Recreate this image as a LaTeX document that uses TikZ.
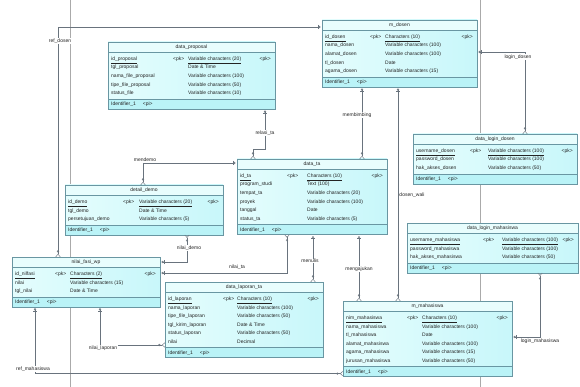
\documentclass[tikz,border=0pt]{standalone}
\usepackage{fontspec}
\setmainfont{Liberation Sans}
\usetikzlibrary{calc,arrows.meta}
\definecolor{boxfillL}{RGB}{228,253,253}
\definecolor{boxfillR}{RGB}{200,247,250}
\definecolor{ttlfill}{RGB}{232,253,253}
\definecolor{idfill}{RGB}{186,243,247}
\definecolor{boxline}{RGB}{105,150,162}
\definecolor{linec}{RGB}{105,115,125}
\definecolor{pagec}{RGB}{170,170,170}
\definecolor{txtc}{RGB}{35,35,35}
\tikzset{
  tblbox/.style={left color=boxfillL, right color=boxfillR, draw=none, inner sep=0pt, outer sep=0pt},
  txt/.style={font=\fontsize{5}{6}\selectfont, text=txtc, inner sep=0pt},
  lbl/.style={font=\fontsize{5}{6}\selectfont, text=txtc, fill=white, inner sep=0.6pt},
  rel/.style={draw=linec, line width=0.45pt,
    {Circle[open,length=2.2pt,sep=1.5pt]Bar[width=4pt]}-{Circle[open,length=2.2pt,sep=1.5pt]Straight Barb[length=2.5pt,width=4.5pt,reversed]}},
  pageline/.style={draw=pagec, line width=0.7pt}
}
\newcommand\ertable[8]{%
  \pgfmathsetmacro\erh{24+8.6*#5}%
  \def\curtab{#1}\def\curpk{#7}\def\curty{#8}%
  \node[tblbox, minimum width=#4pt, minimum height=\erh pt, anchor=north west] (#1) at (#2,#3) {};
  \fill[ttlfill] (#1.north west) rectangle ($(#1.north east)+(0,10)$);
  \fill[idfill] ($(#1.south west)+(0,-10)$) rectangle (#1.south east);
  \draw[boxline, line width=0.4pt] ($(#1.north west)+(0,10)$) -- ($(#1.north east)+(0,10)$);
  \draw[boxline, line width=0.4pt] ($(#1.south west)+(0,-10)$) -- ($(#1.south east)+(0,-10)$);
  \draw[boxline, line width=0.55pt] (#1.north west) rectangle (#1.south east);
  \node[txt] (#1-title) at ($(#1.north)+(0,5.2)$) {#6};
  \node[txt, anchor=base west] (#1-id) at ($(#1.south west)+(3,-3.3)$) {Identifier\_1\hspace{7pt}\textless pi\textgreater};
}
\newcommand\erpk[2]{%
  \node[txt, anchor=base west] (\curtab-pkn) at ($(\curtab.north west)+(3,18.4)$) {\underline{#1}};
  \node[txt, anchor=base west] (\curtab-pkm) at ($(\curtab.north west)+(\curpk,18.4)$) {\textless pk\textgreater};
  \node[txt, anchor=base west] (\curtab-pkt) at ($(\curtab.north west)+(\curty,18.4)$) {\underline{#2}};
  \node[txt, anchor=base east] (\curtab-pkr) at ($(\curtab.north east)+(-4,18.4)$) {\textless pk\textgreater};
}
\newcommand\erow[3]{%
  \node[txt, anchor=base west] (\curtab-n#1) at ($(\curtab.north west)+(3,{14.1+8.6*(#1-0.5)})$) {#2};
  \node[txt, anchor=base west] (\curtab-t#1) at ($(\curtab.north west)+(\curty,{14.1+8.6*(#1-0.5)})$) {#3};
}
\begin{document}
\begin{tikzpicture}[x=1pt,y=-1pt]
\fill[white] (0,0) rectangle (580,387);
\useasboundingbox (0,0) rectangle (580,387);
% page borders
\draw[pageline] (70,0) -- (70,387);
\draw[pageline] (480,0) -- (480,387);

% tables
\ertable{prop}{108}{42}{167}{5}{data\_proposal}{65}{80}
\erpk{id\_proposal}{Variable characters (20)}
\erow{2}{tgl\_proposal}{Date \& Time}
\erow{3}{nama\_file\_proposal}{Variable characters (100)}
\erow{4}{tipe\_file\_proposal}{Variable characters (50)}
\erow{5}{status\_file}{Variable characters (10)}

\ertable{dosen}{322}{20}{155}{5}{m\_dosen}{48}{63}
\erpk{id\_dosen}{Characters (10)}
\erow{2}{nama\_dosen}{Variable characters (100)}
\erow{3}{alamat\_dosen}{Variable characters (100)}
\erow{4}{tl\_dosen}{Date}
\erow{5}{agama\_dosen}{Variable characters (15)}

\ertable{logind}{413}{134}{164}{3}{data\_login\_dosen}{57}{75}
\erpk{username\_dosen}{Variable characters (100)}
\erow{2}{password\_dosen}{Variable characters (100)}
\erow{3}{hak\_akses\_dosen}{Variable characters (50)}

\ertable{ta}{237}{159}{150}{6}{data\_ta}{50}{70}
\erpk{id\_ta}{Characters (10)}
\erow{2}{program\_studi}{Text (100)}
\erow{3}{tempat\_ta}{Variable characters (20)}
\erow{4}{proyek}{Variable characters (100)}
\erow{5}{tanggal}{Date}
\erow{6}{status\_ta}{Variable characters (5)}

\ertable{demo}{65}{185}{158}{3}{detail\_demo}{58}{74}
\erpk{id\_demo}{Variable characters (20)}
\erow{2}{tgl\_demo}{Date \& Time}
\erow{3}{persetujuan\_demo}{Variable characters (5)}

\ertable{loginm}{407}{223}{171}{3}{data\_login\_mahasiswa}{76}{95}
\erpk{username\_mahasiswa}{Variable characters (100)}
\erow{2}{password\_mahasiswa}{Variable characters (100)}
\erow{3}{hak\_akses\_mahasiswa}{Variable characters (50)}

\ertable{nil}{12}{257}{148}{3}{nilai\_fasi\_wp}{43}{58}
\erpk{id\_nilfasi}{Characters (2)}
\erow{2}{nilai}{Variable characters (15)}
\erow{3}{tgl\_nilai}{Date \& Time}

\ertable{lap}{165}{282}{158}{6}{data\_laporan\_ta}{58}{72}
\erpk{id\_laporan}{Characters (10)}
\erow{2}{nama\_laporan}{Variable characters (100)}
\erow{3}{tipe\_file\_laporan}{Variable characters (50)}
\erow{4}{tgl\_kirim\_laporan}{Date \& Time}
\erow{5}{status\_laporan}{Variable characters (50)}
\erow{6}{nilai}{Decimal}

\ertable{mhs}{343}{301}{169}{6}{m\_mahasiswa}{64}{79}
\erpk{nim\_mahasiswa}{Characters (10)}
\erow{2}{nama\_mahasiswa}{Variable characters (100)}
\erow{3}{tl\_mahasiswa}{Date}
\erow{4}{alamat\_mahasiswa}{Variable characters (100)}
\erow{5}{agama\_mahasiswa}{Variable characters (15)}
\erow{6}{jurusan\_mahasiswa}{Variable characters (50)}

% connectors
\draw[rel] ($(prop.south west)+(157,0)$) -- ++(0,40) -| ($(ta.north west)+(16,0)$);
\draw[rel] ($(dosen.south west)+(40,0)$) coordinate (c2) -- (c2 |- ta.north);
\draw[rel] ($(dosen.south west)+(76,0)$) coordinate (c3) -- (c3 |- mhs.north);
\draw[rel] ($(dosen.north east)+(0,32)$) -| ($(logind.north west)+(112,0)$);
\draw[rel] ($(ta.north west)+(0,4)$) -| ($(demo.north west)+(78,0)$);
\draw[rel] ($(nil.north east)+(0,5)$) -| ($(demo.south west)+(122,0)$);
\draw[rel] ($(nil.north east)+(0,16)$) -| ($(ta.south west)+(50,0)$);
\draw[rel] ($(ta.south west)+(76,0)$) coordinate (c8) -- (c8 |- lap.north);
\draw[rel] ($(ta.south west)+(122,0)$) coordinate (c9) -- (c9 |- mhs.north);
\draw[rel] ($(dosen.north west)+(0,7)$) -| ($(nil.north west)+(46,0)$);
\draw[rel] ($(nil.south west)+(23,0)$) |- ($(mhs.south west)+(0,-3)$);
\draw[rel] ($(nil.south west)+(88,0)$) |- ($(lap.north west)+(0,63)$);
\draw[rel] ($(mhs.north east)+(0,36)$) -| ($(loginm.south west)+(133,0)$);

% relationship labels
\node[lbl] (l1) at (265,133) {relasi\_ta};
\node[lbl] (l2) at (357,115) {membimbing};
\node[lbl] (l3) at (412,195) {dosen\_wali};
\node[lbl] (l4) at (518,57) {login\_dosen};
\node[lbl] (l5) at (145,160) {mendemo};
\node[lbl] (l6) at (189,248) {nilai\_demo};
\node[lbl] (l7) at (237,267) {nilai\_ta};
\node[lbl] (l8) at (310,261) {menulis};
\node[lbl] (l9) at (359,269) {mengajukan};
\node[lbl] (l10) at (60,41) {ref\_dosen};
\node[lbl] (l11) at (33,369) {ref\_mahasiswa};
\node[lbl] (l12) at (103,348) {nilai\_laporan};
\node[lbl] (l13) at (540,341) {login\_mahasiswa};
\end{tikzpicture}
\end{document}
